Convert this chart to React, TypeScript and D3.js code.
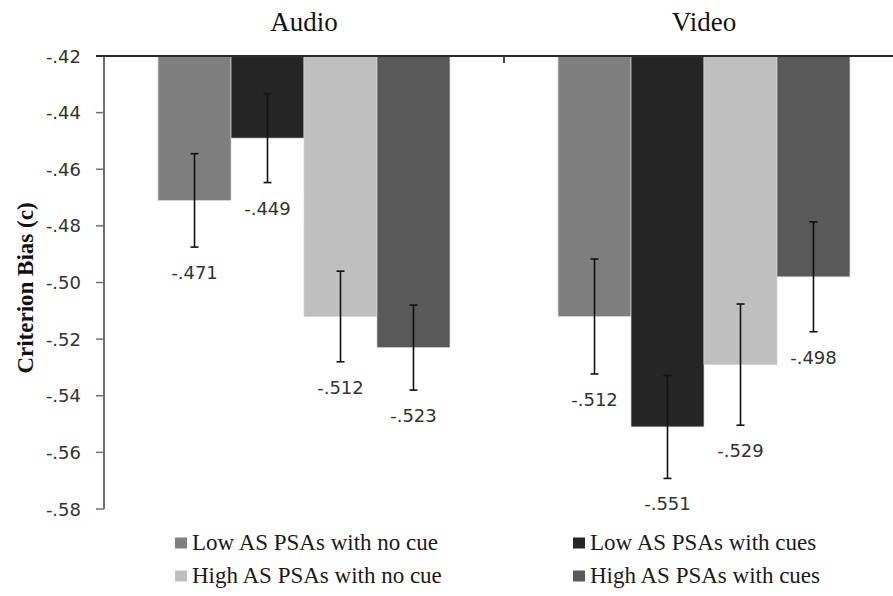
import * as d3 from "d3";
import { useEffect, useRef } from "react";

// data
const groups = ["Audio", "Video"];
const series = [
  "Low AS PSAs with no cue",
  "Low AS PSAs with cues",
  "High AS PSAs with no cue",
  "High AS PSAs with cues",
];
const audioMeans = [-0.471, -0.449, -0.512, -0.523];
const videoMeans = [-0.512, -0.551, -0.529, -0.498];
const audioErr = [0.0165, 0.0157, 0.016, 0.015];
const videoErr = [0.0203, 0.0182, 0.0214, 0.0194];
const yTicks = [-0.42, -0.44, -0.46, -0.48, -0.5, -0.52, -0.54, -0.56, -0.58];
const colors = ["#7f7f7f", "#262626", "#bfbfbf", "#595959"];

const W = 893;
const H = 596;
const SERIF = "'Liberation Serif', 'Times New Roman', 'DejaVu Serif', serif";

const App = () => {
  const ref = useRef<SVGSVGElement | null>(null);

  useEffect(() => {
    const svg = d3.select(ref.current);
    svg.selectAll("*").remove();

    const margin = { top: 56, left: 104 };
    const plotBottom = 509;

    const y = d3.scaleLinear().domain([-0.42, -0.58]).range([margin.top, plotBottom]);
    const x0 = d3.scaleBand().domain(groups).range([margin.left, margin.left + 800]);
    const x1 = d3.scaleBand().domain(series).range([0, x0.bandwidth()]).paddingInner(0).paddingOuter(0.74);

    const rows = groups.map((g, gi) => ({
      group: g,
      means: gi === 0 ? audioMeans : videoMeans,
      errs: gi === 0 ? audioErr : videoErr,
    }));

    // Excel style: "-.42", plain hyphen
    const fmtN = (spec: string) => (v: number) =>
      d3.format(spec)(v).replace("\u2212", "-").replace("0.", ".");
    const fmt = fmtN(".2f");
    const fmt3 = fmtN(".3f");

    // bars
    rows.forEach((r) => {
      const g = svg.append("g").attr("transform", `translate(${x0(r.group)},0)`);
      g.selectAll("rect")
        .data(series)
        .enter()
        .append("rect")
        .attr("x", (s) => x1(s)!)
        .attr("y", y(-0.42))
        .attr("width", x1.bandwidth())
        .attr("height", (s, i) => y(r.means[i]) - y(-0.42))
        .attr("fill", (s, i) => colors[i])
        .attr("stroke", "#d4d4d4")
        .attr("stroke-width", 0.7);

      // error bars + value labels
      series.forEach((s, i) => {
        const cx = x1(s)! + x1.bandwidth() / 2;
        const top = y(r.means[i] + r.errs[i]);
        const bot = y(r.means[i] - r.errs[i]);
        const eg = g.append("g").attr("stroke", "#111").attr("stroke-width", 1.6);
        eg.append("line").attr("x1", cx).attr("x2", cx).attr("y1", top).attr("y2", bot);
        eg.append("line").attr("x1", cx - 4).attr("x2", cx + 4).attr("y1", top).attr("y2", top);
        eg.append("line").attr("x1", cx - 4).attr("x2", cx + 4).attr("y1", bot).attr("y2", bot);

        g.append("text")
          .attr("x", cx)
          .attr("y", bot + 32)
          .attr("text-anchor", "middle")
          .attr("font-family", "DejaVu Sans")
          .attr("font-size", 18)
          .attr("fill", "#333")
          .text(fmt3(r.means[i]));
      });

      // group title
      svg.append("text")
        .attr("x", x0(r.group)! + x0.bandwidth() / 2)
        .attr("y", 31)
        .attr("text-anchor", "middle")
        .style("font-family", SERIF)
        .attr("font-size", 27)
        .attr("fill", "#111")
        .text(r.group);
    });

    // y axis
    svg.append("line")
      .attr("x1", margin.left).attr("x2", margin.left)
      .attr("y1", y(-0.42)).attr("y2", y(-0.58))
      .attr("stroke", "#707070").attr("stroke-width", 2);
    yTicks.forEach((t) => {
      svg.append("line")
        .attr("x1", margin.left - 8).attr("x2", margin.left)
        .attr("y1", y(t)).attr("y2", y(t))
        .attr("stroke", "#707070").attr("stroke-width", 1.5);
      svg.append("text")
        .attr("x", 81)
        .attr("y", y(t) + 6.5)
        .attr("text-anchor", "end")
        .attr("font-family", "DejaVu Sans")
        .attr("font-size", 18)
        .attr("fill", "#333")
        .text(fmt(t));
    });

    // category axis along the top (value -.42)
    svg.append("line")
      .attr("x1", margin.left - 8).attr("x2", margin.left + 800)
      .attr("y1", y(-0.42)).attr("y2", y(-0.42))
      .attr("stroke", "#2a2a2a").attr("stroke-width", 2);
    svg.append("line")
      .attr("x1", x0("Video")!).attr("x2", x0("Video")!)
      .attr("y1", y(-0.42)).attr("y2", y(-0.42) + 7)
      .attr("stroke", "#444").attr("stroke-width", 2);

    // y label
    svg.append("text")
      .attr("transform", `translate(33, 288) rotate(-90)`)
      .attr("text-anchor", "middle")
      .style("font-family", SERIF)
      .attr("font-weight", "bold")
      .attr("font-size", 23)
      .attr("fill", "#111")
      .text("Criterion Bias (c)");

    // legend
    const colX = [175, 573];
    const rowY = [543, 576];
    series.forEach((s, i) => {
      const lx = colX[i % 2];
      const ly = rowY[Math.floor(i / 2)];
      svg.append("rect")
        .attr("x", lx).attr("y", ly - 5.5)
        .attr("width", 12).attr("height", 11)
        .attr("fill", colors[i]);
      svg.append("text")
        .attr("x", lx + 17)
        .attr("y", ly + 7)
        .style("font-family", SERIF)
        .attr("font-size", 23)
        .attr("fill", "#1a1a1a")
        .text(s);
    });
  }, []);

  return (
    <svg
      ref={ref}
      width={W}
      height={H}
      style={{ position: "absolute", left: 0, top: 0, background: "#fff" }}
    ></svg>
  );
};

export default App;
